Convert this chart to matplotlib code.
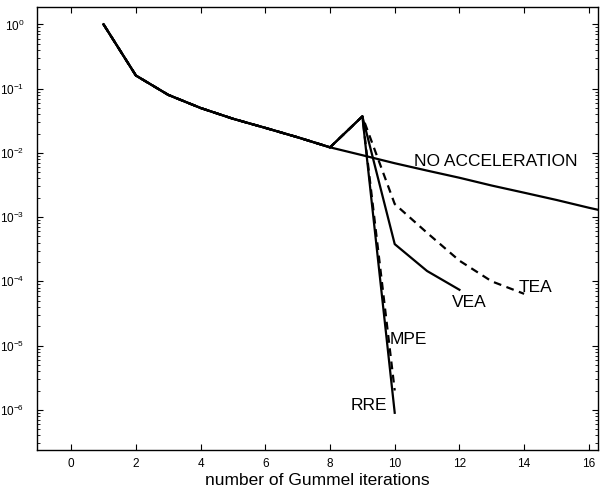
import numpy as np
import matplotlib
matplotlib.use("Agg")
import matplotlib.pyplot as plt
from matplotlib.ticker import LogLocator, NullFormatter, FixedLocator

plt.rcParams['font.family'] = ['Liberation Sans', 'DejaVu Sans']
plt.rcParams['mathtext.fontset'] = 'custom'
plt.rcParams['mathtext.rm'] = 'Liberation Sans'
plt.rcParams['mathtext.it'] = 'Liberation Sans'

# common start (all methods follow plain Gummel up to iteration 8)
x_common = [1, 2, 3, 4, 5, 6, 7, 8]
y_common = [1.0, 0.16, 0.08, 0.05, 0.034, 0.0245, 0.0175, 0.0122]

# no acceleration
x_noacc = [1, 2, 3, 4, 5, 6, 7, 8, 9, 10, 11, 12, 13, 14, 15, 16, 17]
y_noacc = [1.0, 0.16, 0.08, 0.05, 0.034, 0.0245, 0.0175, 0.0122, 0.0092,
           0.0069, 0.0053, 0.0041, 0.0031, 0.0024, 0.00185, 0.0014, 0.00108]

# accelerated methods after iteration 8
x_rre = [9, 10]
y_rre = [0.037, 9e-7]
x_mpe = [9, 10]
y_mpe = [0.037, 2e-6]
x_vea = [9, 10, 11, 12]
y_vea = [0.037, 3.8e-4, 1.45e-4, 7.4e-5]
x_tea = [9, 10, 11, 12, 13, 14]
y_tea = [0.037, 1.6e-3, 5.7e-4, 2.1e-4, 1.0e-4, 6.4e-5]

x_ticks = [0, 2, 4, 6, 8, 10, 12, 14, 16]
y_ticks = [1e-6, 1e-5, 1e-4, 1e-3, 1e-2, 1e-1, 1e0]

fig = plt.figure(figsize=(6.0, 4.91), dpi=100)
ax = fig.add_axes([0.061, 0.0835, 0.936, 0.902])

lw = 1.6
ax.plot(x_noacc, y_noacc, color='k', lw=lw)
ax.plot(x_common + x_rre, y_common + y_rre, color='k', lw=lw)
ax.plot(x_common + x_mpe, y_common + y_mpe, color='k', lw=lw, ls=(0, (3.5, 2.5)))
ax.plot(x_common + x_vea, y_common + y_vea, color='k', lw=lw)
ax.plot(x_common + x_tea, y_common + y_tea, color='k', lw=lw, ls=(0, (3.5, 2.5)))

fs = 12.5
ax.text(10.6, 6.2e-3, 'NO ACCELERATION', fontsize=fs, ha='left', va='baseline')
ax.text(13.84, 6.8e-5, 'TEA', fontsize=fs, ha='left', va='baseline')
ax.text(11.76, 4.0e-5, 'VEA', fontsize=fs, ha='left', va='baseline')
ax.text(9.84, 1.05e-5, 'MPE', fontsize=fs, ha='left', va='baseline')
ax.text(8.64, 9.9e-7, 'RRE', fontsize=fs, ha='left', va='baseline')

ax.set_yscale('log')
ax.set_xlim(-1.07, 16.29)
ax.set_ylim(10 ** -6.625, 10 ** 0.269)

ax.xaxis.set_major_locator(FixedLocator(x_ticks))
ax.yaxis.set_major_locator(FixedLocator(y_ticks))
ax.set_yticklabels([r'$10^{%d}$' % int(round(np.log10(v))) for v in y_ticks])
ax.yaxis.set_minor_locator(LogLocator(base=10, subs=np.arange(2, 10), numticks=20))
ax.yaxis.set_minor_formatter(NullFormatter())

ax.tick_params(which='both', direction='in', top=True, right=True, labelsize=8.5)
ax.tick_params(which='major', length=4, width=0.8)
ax.tick_params(which='minor', length=2, width=0.6)
ax.tick_params(axis='x', pad=6)
ax.tick_params(axis='y', pad=9)
for s in ax.spines.values():
    s.set_linewidth(1.0)

ax.set_xlabel('number of Gummel iterations', fontsize=12.5)
ax.xaxis.set_label_coords(0.5, -0.079)
ax.xaxis.label.set_va('baseline')

fig.savefig('out.png', dpi=100)
